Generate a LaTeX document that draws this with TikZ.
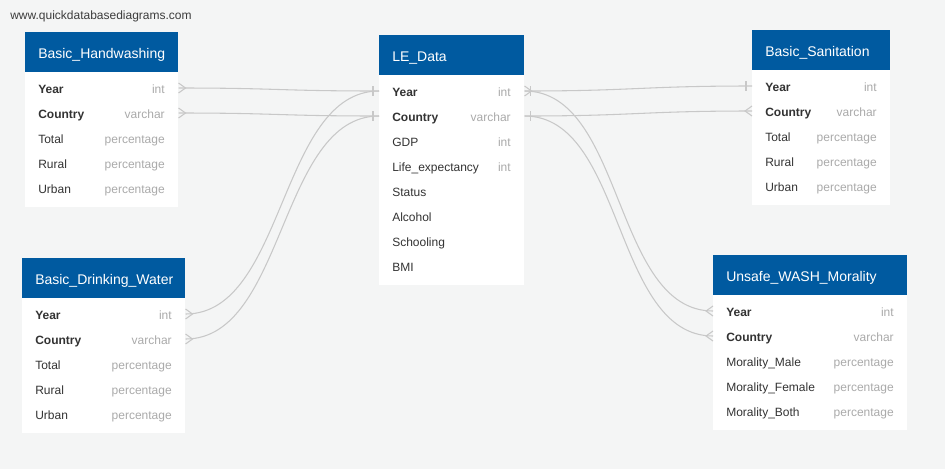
\documentclass[tikz,border=0pt]{standalone}
\usepackage{fontspec}
\setmainfont{Liberation Sans}
\definecolor{bg}{RGB}{244,245,245}
\definecolor{hblue}{RGB}{0,90,160}
\definecolor{fcol}{RGB}{51,51,51}
\definecolor{tcol}{RGB}{170,170,170}
\definecolor{lcol}{RGB}{200,200,200}
\definecolor{urlcol}{RGB}{60,60,60}
\tikzset{
  hdr/.style={fill=hblue, draw=none, inner sep=0, anchor=north west},
  tbody/.style={fill=white, draw=none, inner sep=0, anchor=north west},
  title/.style={text=white, font=\fontsize{10.5pt}{12pt}\selectfont, inner sep=0, anchor=west, text height=11.3pt, text depth=2pt},
  fname/.style={text=fcol, font=\fontsize{9pt}{11pt}\selectfont, inner sep=0, anchor=west, text height=9.6pt, text depth=1.9pt},
  fkey/.style={fname, font=\fontsize{9pt}{11pt}\selectfont\bfseries},
  ftype/.style={text=tcol, font=\fontsize{9pt}{11pt}\selectfont, inner sep=0, anchor=east, text height=9.6pt, text depth=1.9pt},
  conn/.style={draw=lcol, line width=0.8pt},
}
\newcommand\frow[7]{% style, name, xl, xr, y, label, type
  \node[#1] (#2) at (#3,#5) {#6};
  \node[ftype] (#2-t) at (#4,#5) {#7};}
\newcommand\crowR[1]{\draw[conn] (#1) ++(0,-5) -- ++(7,5) -- ++(-7,5);}
\newcommand\crowL[1]{\draw[conn] (#1) ++(0,-5) -- ++(-7,5) -- ++(7,5);}
\newcommand\barR[1]{\draw[conn] (#1) ++(6,-5) -- ++(0,10);}
\newcommand\barL[1]{\draw[conn] (#1) ++(-6,-5) -- ++(0,10);}
\begin{document}
\begin{tikzpicture}[x=0.75pt,y=-0.75pt]
\fill[bg] (0,0) rectangle (945,469);
\useasboundingbox (0,0) rectangle (945,469);

\node[text=urlcol, font=\fontsize{9pt}{11pt}\selectfont, inner sep=0, anchor=west] (url) at (10,16) {www.quickdatabasediagrams.com};

% Basic_Handwashing
\node[hdr, minimum width=153*0.75pt, minimum height=40*0.75pt] (hw) at (25,32) {};
\node[tbody, minimum width=153*0.75pt, minimum height=135*0.75pt] (hw-b) at (25,72) {};
\node[title] (hw-title) at (38,52) {Basic\_Handwashing};
\frow{fkey}{hw-year}{38}{165}{88}{Year}{int}
\frow{fkey}{hw-country}{38}{165}{113}{Country}{varchar}
\frow{fname}{hw-total}{38}{165}{138}{Total}{percentage}
\frow{fname}{hw-rural}{38}{165}{163}{Rural}{percentage}
\frow{fname}{hw-urban}{38}{165}{188}{Urban}{percentage}

% LE_Data
\node[hdr, minimum width=145*0.75pt, minimum height=40*0.75pt] (le) at (379,35) {};
\node[tbody, minimum width=145*0.75pt, minimum height=210*0.75pt] (le-b) at (379,75) {};
\node[title] (le-title) at (392,55) {LE\_Data};
\frow{fkey}{le-year}{392}{511}{91}{Year}{int}
\frow{fkey}{le-country}{392}{511}{116}{Country}{varchar}
\frow{fname}{le-gdp}{392}{511}{141}{GDP}{int}
\frow{fname}{le-life}{392}{511}{166}{Life\_expectancy}{int}
\frow{fname}{le-status}{392}{511}{191}{Status}{}
\frow{fname}{le-alcohol}{392}{511}{216}{Alcohol}{}
\frow{fname}{le-school}{392}{511}{241}{Schooling}{}
\frow{fname}{le-bmi}{392}{511}{266}{BMI}{}

% Basic_Sanitation
\node[hdr, minimum width=138*0.75pt, minimum height=40*0.75pt] (bs) at (752,30) {};
\node[tbody, minimum width=138*0.75pt, minimum height=135*0.75pt] (bs-b) at (752,70) {};
\node[title] (bs-title) at (765,50) {Basic\_Sanitation};
\frow{fkey}{bs-year}{765}{877}{86}{Year}{int}
\frow{fkey}{bs-country}{765}{877}{111}{Country}{varchar}
\frow{fname}{bs-total}{765}{877}{136}{Total}{percentage}
\frow{fname}{bs-rural}{765}{877}{161}{Rural}{percentage}
\frow{fname}{bs-urban}{765}{877}{186}{Urban}{percentage}

% Basic_Drinking_Water
\node[hdr, minimum width=163*0.75pt, minimum height=40*0.75pt] (dw) at (22,258) {};
\node[tbody, minimum width=163*0.75pt, minimum height=135*0.75pt] (dw-b) at (22,298) {};
\node[title] (dw-title) at (35,278) {Basic\_Drinking\_Water};
\frow{fkey}{dw-year}{35}{172}{314}{Year}{int}
\frow{fkey}{dw-country}{35}{172}{339}{Country}{varchar}
\frow{fname}{dw-total}{35}{172}{364}{Total}{percentage}
\frow{fname}{dw-rural}{35}{172}{389}{Rural}{percentage}
\frow{fname}{dw-urban}{35}{172}{414}{Urban}{percentage}

% Unsafe_WASH_Morality
\node[hdr, minimum width=194*0.75pt, minimum height=40*0.75pt] (uw) at (713,255) {};
\node[tbody, minimum width=194*0.75pt, minimum height=135*0.75pt] (uw-b) at (713,295) {};
\node[title] (uw-title) at (726,275) {Unsafe\_WASH\_Morality};
\frow{fkey}{uw-year}{726}{894}{311}{Year}{int}
\frow{fkey}{uw-country}{726}{894}{336}{Country}{varchar}
\frow{fname}{uw-male}{726}{894}{361}{Morality\_Male}{percentage}
\frow{fname}{uw-female}{726}{894}{386}{Morality\_Female}{percentage}
\frow{fname}{uw-both}{726}{894}{411}{Morality\_Both}{percentage}

% ports
\coordinate (hwY) at (hw-b.east |- hw-year.west);
\coordinate (hwC) at (hw-b.east |- hw-country.west);
\coordinate (dwY) at (dw-b.east |- dw-year.west);
\coordinate (dwC) at (dw-b.east |- dw-country.west);
\coordinate (leYl) at (le-b.west |- le-year.west);
\coordinate (leCl) at (le-b.west |- le-country.west);
\coordinate (leYr) at (le-b.east |- le-year.west);
\coordinate (leCr) at (le-b.east |- le-country.west);
\coordinate (bsY) at (bs-b.west |- bs-year.west);
\coordinate (bsC) at (bs-b.west |- bs-country.west);
\coordinate (uwY) at (uw-b.west |- uw-year.west);
\coordinate (uwC) at (uw-b.west |- uw-country.west);

% connectors
\draw[conn] (hwY) .. controls +(100,0) and +(-100,0) .. (leYl);
\draw[conn] (hwC) .. controls +(100,0) and +(-100,0) .. (leCl);
\draw[conn] (dwY) .. controls +(100,0) and +(-100,0) .. (leYl);
\draw[conn] (dwC) .. controls +(100,0) and +(-100,0) .. (leCl);
\draw[conn] (leYr) .. controls +(110,0) and +(-110,0) .. (bsY);
\draw[conn] (leCr) .. controls +(110,0) and +(-110,0) .. (bsC);
\draw[conn] (leYr) .. controls +(100,0) and +(-100,0) .. (uwY);
\draw[conn] (leCr) .. controls +(100,0) and +(-100,0) .. (uwC);

% ends
\crowR{hwY} \crowR{hwC} \crowR{dwY} \crowR{dwC}
\barL{leYl} \barL{leCl}
\crowR{leYr} \barR{leYr} \barR{leCr}
\barL{bsY} \crowL{bsC}
\crowL{uwY} \crowL{uwC}
\end{tikzpicture}
\end{document}
